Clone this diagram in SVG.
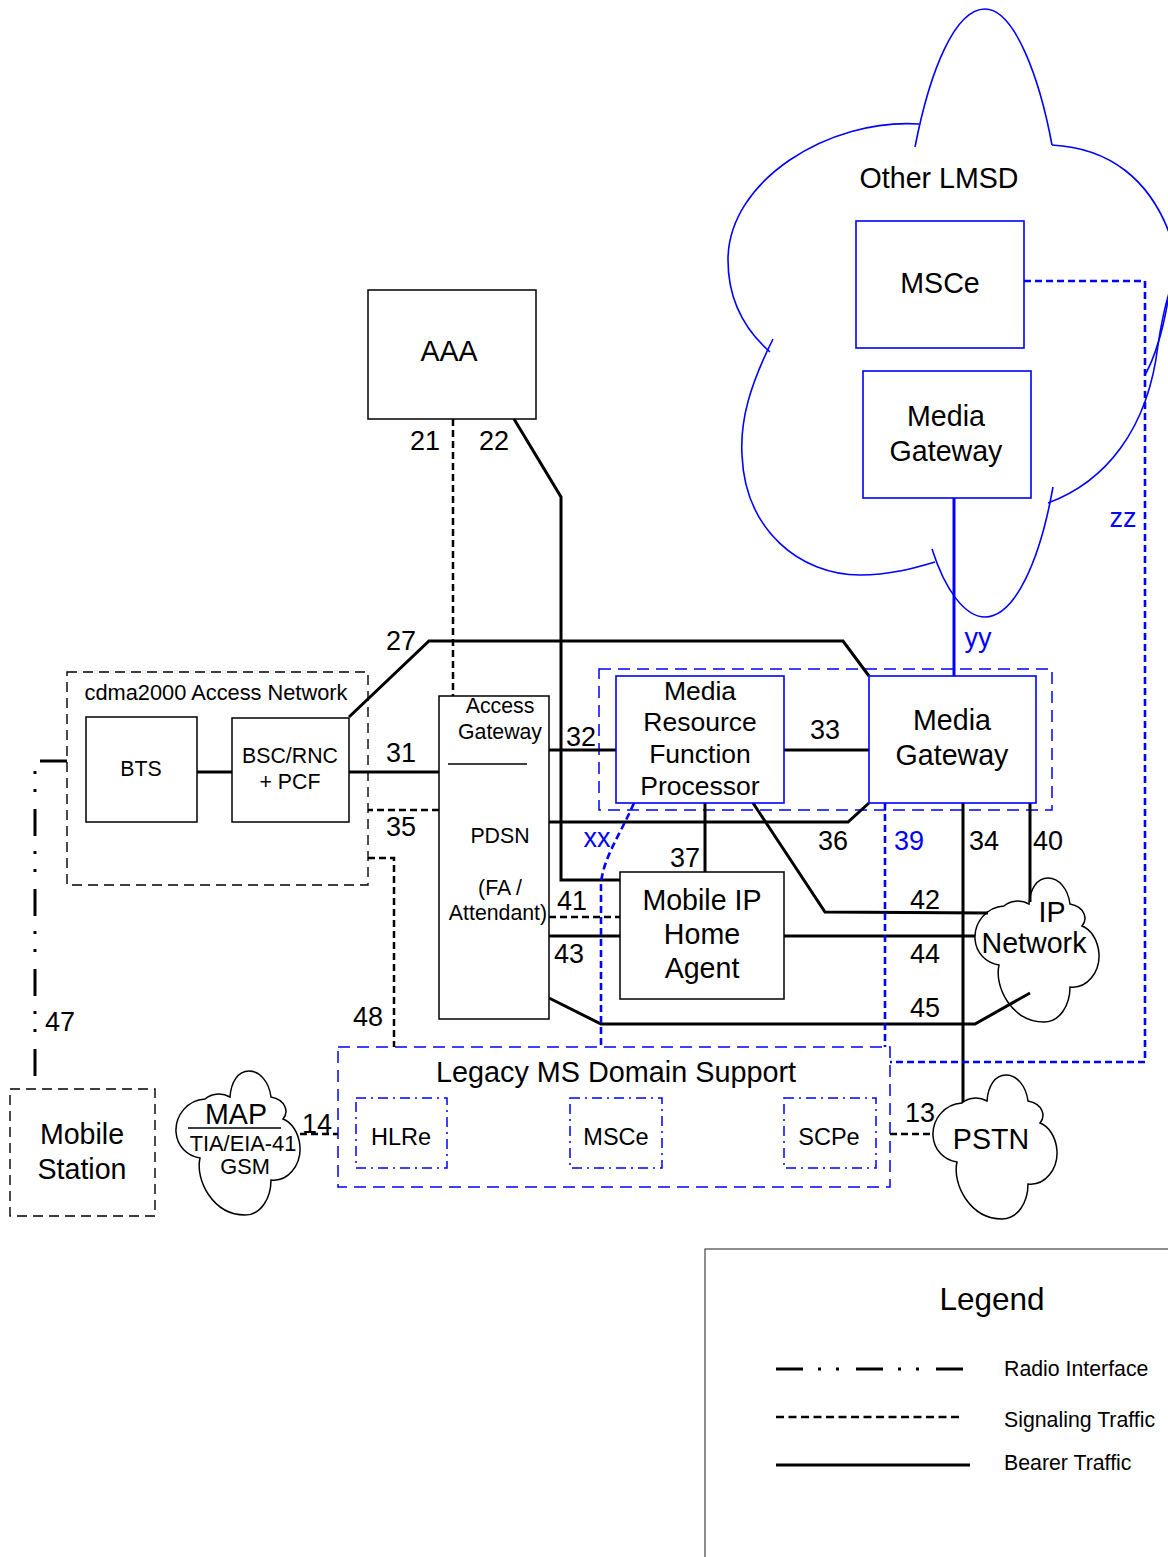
<svg xmlns="http://www.w3.org/2000/svg" width="1168" height="1557" viewBox="0 0 1168 1557">
<defs>
<style>
text{font-family:"Liberation Sans",Arial,sans-serif;fill:#000;text-anchor:middle}
.blue{fill:#0000ff}
.box{fill:#fff;stroke:#000;stroke-width:1.5}
.bbox{fill:#fff;stroke:#0000ff;stroke-width:1.6}
.bear{fill:none;stroke:#000;stroke-width:3}
.sig{fill:none;stroke:#000;stroke-width:2.5;stroke-dasharray:7 4}
.bsig{fill:none;stroke:#0000ff;stroke-width:2.6;stroke-dasharray:7 4}
.bsol{fill:none;stroke:#0000ff;stroke-width:3}
.grp{fill:none;stroke:#000;stroke-width:1.4;stroke-dasharray:10 6}
.bgrp{fill:none;stroke:#0000ff;stroke-width:1.5;stroke-dasharray:12 7}
.bdd{fill:none;stroke:#0000ff;stroke-width:1.5;stroke-dasharray:10 5 2 5}
.radio{fill:none;stroke:#000;stroke-width:3;stroke-dasharray:27 15 3 15 3 17}
.cloud{fill:#fff;stroke:#000;stroke-width:1.5}
.bcloud{fill:none;stroke:#0000ff;stroke-width:1.6}
.lbl{font-size:27px}
.big{font-size:28.6px}
</style>
<path id="cloudShape" d="M32,29 C14,30 2,46 3,62 C4,76 14,86 27,88 C22,110 40,145 72,145 C88,145 98,128 98,110 C115,112 128,95 127,77 C126,62 118,52 110,49 C116,42 113,30 98,27 C96,12 87,1 76,1 C65,1 58,12 57,27 C48,22 38,24 32,29 Z"/>
</defs>
<rect width="1168" height="1557" fill="#fff"/>

<!-- Other LMSD cloud -->
<g id="other-lmsd">
<path class="bcloud" d="M915,147 C930,70 955,9 985,9 C1015,9 1040,80 1052,145"/>
<path class="bcloud" d="M919,124 C830,118 728,180 728,260 C728,300 745,330 770,352"/>
<path class="bcloud" d="M773,339 C750,385 740,420 742,455 C745,530 800,575 860,575 C890,575 915,568 935,562"/>
<path class="bcloud" d="M932,549 C945,590 965,617 985,617 C1015,617 1040,560 1053,487"/>
<path class="bcloud" d="M1048,503 C1105,482 1148,430 1158,345 C1161,325 1165,305 1170,290"/>
<path class="bcloud" d="M1052,145 C1110,148 1150,180 1170,235"/>
<path class="bcloud" d="M1168,300 C1163,330 1156,355 1145,375"/>
<text x="939" y="188" class="big">Other LMSD</text>
</g>

<!-- Group boxes -->
<g id="cdma-an">
<rect class="grp" x="67" y="672" width="301" height="213"/>
<text x="216" y="700" style="font-size:21.8px">cdma2000 Access Network</text>
</g>
<g id="mg-group"><rect class="bgrp" x="599" y="669" width="453" height="141"/></g>
<g id="legacy">
<rect class="bgrp" x="338" y="1047" width="552" height="140"/>
<text x="616" y="1082" style="font-size:28.8px">Legacy MS Domain Support</text>
</g>

<!-- Connectors -->
<g id="connectors">
<path class="sig" d="M453,419 L453,696"/>
<path class="bear" d="M514,419 L561,497 L561,880 L620,880"/>
<path class="bear" d="M349,717 L429,641 L843,641 L869,676"/>
<path class="bear" d="M197,772 L232,772"/>
<path class="bear" d="M349,772 L439,772"/>
<path class="bear" d="M549,750 L616,750"/>
<path class="bear" d="M784,750 L869,750"/>
<path class="bear" d="M549,822 L848,822 L869,803"/>
<path class="bear" d="M705,803 L705,872"/>
<path class="sig" d="M549,917 L620,917"/>
<path class="bear" d="M549,936 L620,936"/>
<path class="bear" d="M753,803 L825,912 L988,913"/>
<path class="bear" d="M784,936 L975,936"/>
<path class="bear" d="M549,998 L601,1024 L975,1024 L1030,993"/>
<path class="bear" d="M963,803 L963,1104"/>
<path class="bear" d="M1030,803 L1030,902"/>
<path class="sig" d="M439,810 L368,810"/>
<path class="sig" d="M368,858 L394,858 L394,1047"/>
<path class="radio" d="M67,761 L35,761 L35,1077"/>
<path class="sig" d="M890,1134 L933,1134"/>
<path class="sig" d="M300,1134 L338,1134"/>
<path class="bsol" d="M954,498 L954,676"/>
<path class="bsig" d="M1024,281 L1145,281 L1145,1062 L890,1062"/>
<path class="bsig" d="M885,803 L885,1047"/>
<path class="bsig" d="M634,803 C620,835 602,860 601,885 L601,1047"/>
</g>

<!-- Connector labels -->
<g id="labels" class="lbl">
<text x="425" y="450" class="lbl">21</text>
<text x="494" y="450" class="lbl">22</text>
<text x="401" y="650" class="lbl">27</text>
<text x="401" y="762" class="lbl">31</text>
<text x="401" y="836" class="lbl">35</text>
<text x="581" y="746" class="lbl">32</text>
<text x="825" y="739" class="lbl">33</text>
<text x="833" y="850" class="lbl">36</text>
<text x="909" y="850" class="lbl blue">39</text>
<text x="984" y="850" class="lbl">34</text>
<text x="1048" y="850" class="lbl">40</text>
<text x="685" y="867" class="lbl">37</text>
<text x="572" y="910" class="lbl">41</text>
<text x="569" y="963" class="lbl">43</text>
<text x="925" y="909" class="lbl">42</text>
<text x="925" y="963" class="lbl">44</text>
<text x="925" y="1017" class="lbl">45</text>
<text x="60" y="1031" class="lbl">47</text>
<text x="368" y="1026" class="lbl">48</text>
<text x="920" y="1122" class="lbl">13</text>
<text x="317" y="1133" class="lbl">14</text>
<text x="597" y="847" class="lbl blue">xx</text>
<text x="978" y="647" class="lbl blue">yy</text>
<text x="1123" y="527" class="lbl blue">zz</text>
</g>

<!-- Nodes -->
<g id="mssce-other">
<rect class="bbox" x="856" y="221" width="168" height="127"/>
<text x="940" y="293" class="big">MSCe</text>
</g>
<g id="mg-other">
<rect class="bbox" x="863" y="371" width="168" height="127"/>
<text x="946" y="426" class="big">Media</text>
<text x="946" y="461" class="big">Gateway</text>
</g>
<g id="aaa">
<rect class="box" x="368" y="290" width="168" height="129"/>
<text x="449" y="361" class="big">AAA</text>
</g>
<g id="bts">
<rect class="box" x="86" y="717" width="111" height="105"/>
<text x="141" y="776" style="font-size:21.3px">BTS</text>
</g>
<g id="bsc">
<rect class="box" x="232" y="718" width="117" height="104"/>
<text x="290" y="763" style="font-size:21.3px">BSC/RNC</text>
<text x="290" y="789" style="font-size:21.3px">+ PCF</text>
</g>
<g id="access-gateway">
<rect class="box" x="439" y="696" width="110" height="323"/>
<text x="500" y="713" style="font-size:21.3px">Access</text>
<text x="500" y="739" style="font-size:21.3px">Gateway</text>
<line x1="448" y1="764" x2="527" y2="764" stroke="#000" stroke-width="1.5"/>
<text x="500" y="843" style="font-size:21.3px">PDSN</text>
<text x="500" y="895" style="font-size:21.3px">(FA /</text>
<text x="498" y="920" style="font-size:21.3px">Attendant)</text>
</g>
<g id="mrfp">
<rect class="bbox" x="616" y="676" width="168" height="127"/>
<text x="700" y="700" style="font-size:26.5px">Media</text>
<text x="700" y="731" style="font-size:26.5px">Resource</text>
<text x="700" y="763" style="font-size:26.5px">Function</text>
<text x="700" y="795" style="font-size:26.5px">Processor</text>
</g>
<g id="media-gateway">
<rect class="bbox" x="869" y="676" width="167" height="127"/>
<text x="952" y="730" class="big">Media</text>
<text x="952" y="765" class="big">Gateway</text>
</g>
<g id="mip-ha">
<rect class="box" x="620" y="872" width="164" height="127"/>
<text x="702" y="910" class="big">Mobile IP</text>
<text x="702" y="944" class="big">Home</text>
<text x="702" y="978" class="big">Agent</text>
</g>
<g id="ip-network">
<use href="#cloudShape" class="cloud" transform="translate(972,877)" style="fill:none"/>
<text x="1052" y="922" class="big">IP</text>
<text x="1034" y="953" class="big">Network</text>
</g>
<g id="pstn">
<use href="#cloudShape" class="cloud" transform="translate(930,1074)"/>
<text x="991" y="1149" class="big">PSTN</text>
</g>
<g id="map">
<use href="#cloudShape" class="cloud" transform="translate(173,1070)"/>
<text x="236" y="1124" class="big">MAP</text>
<line x1="188" y1="1128" x2="281" y2="1128" stroke="#000" stroke-width="1.5"/>
<text x="243" y="1151" style="font-size:21.8px">TIA/EIA-41</text>
<text x="245" y="1174" style="font-size:21.8px">GSM</text>
</g>
<g id="mobile-station">
<rect class="grp" x="10" y="1089" width="145" height="127" fill="#fff"/>
<text x="82" y="1144" class="big">Mobile</text>
<text x="82" y="1179" class="big">Station</text>
</g>
<g id="hlre">
<rect class="bdd" x="356" y="1098" width="91" height="70"/>
<text x="401" y="1145" style="font-size:23.5px">HLRe</text>
</g>
<g id="msce-legacy">
<rect class="bdd" x="570" y="1098" width="92" height="70"/>
<text x="616" y="1145" style="font-size:23.5px">MSCe</text>
</g>
<g id="scpe">
<rect class="bdd" x="784" y="1098" width="92" height="70"/>
<text x="829" y="1145" style="font-size:23.5px">SCPe</text>
</g>

<!-- Legend -->
<g id="legend">
<rect x="705" y="1249" width="480" height="330" fill="#fff" stroke="#444" stroke-width="1.2"/>
<text x="992" y="1310" style="font-size:31.5px">Legend</text>
<line class="radio" x1="776" y1="1369" x2="963" y2="1369"/>
<line x1="776" y1="1417" x2="963" y2="1417" stroke="#000" stroke-width="2.5" stroke-dasharray="8 4.5"/>
<line x1="776" y1="1465" x2="970" y2="1465" stroke="#000" stroke-width="3"/>
<text x="1004" y="1376" style="font-size:21.3px;text-anchor:start">Radio Interface</text>
<text x="1004" y="1427" style="font-size:21.3px;text-anchor:start">Signaling Traffic</text>
<text x="1004" y="1470" style="font-size:21.3px;text-anchor:start">Bearer Traffic</text>
</g>
</svg>
